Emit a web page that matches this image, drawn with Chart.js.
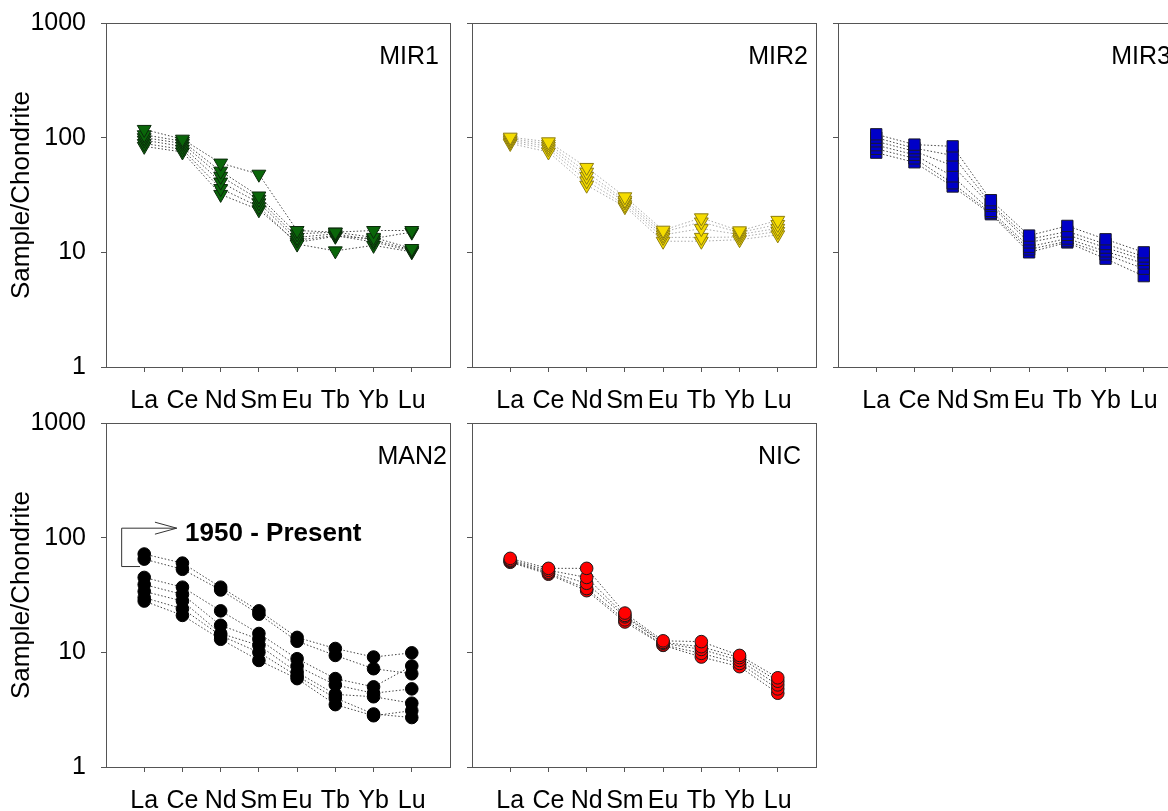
<!DOCTYPE html>
<html>
<head>
<meta charset="utf-8">
<title>REE chondrite-normalised patterns</title>
<script src="https://cdn.jsdelivr.net/npm/chart.js@4/dist/chart.umd.min.js"></script>
<style>
  html, body { margin: 0; padding: 0; background: #fff; overflow: hidden; }
  #wrap { position: relative; width: 1168px; height: 811px; overflow: hidden; background: #fff; }
  #wrap canvas { position: absolute; }
</style>
</head>
<body>
<div id="wrap">
  <canvas id="pMIR1" width="460" height="420" style="left:0px;top:0px"></canvas>
  <canvas id="pMIR2" width="460" height="420" style="left:366px;top:0px"></canvas>
  <canvas id="pMIR3" width="460" height="420" style="left:732px;top:0px"></canvas>
  <canvas id="pMAN2" width="460" height="420" style="left:0px;top:400px"></canvas>
  <canvas id="pNIC"  width="460" height="420" style="left:366px;top:400px"></canvas>
</div>
<script>
// Rare-earth elements along the x axis
const elements = ['La', 'Ce', 'Nd', 'Sm', 'Eu', 'Tb', 'Yb', 'Lu'];
// Decade ticks on the log axis
const yTickValues = [1, 10, 100, 1000];
const yAxisTitle = 'Sample/Chondrite';

// Sample/chondrite ratios, one row per sample, in element order
const mir1 = [
  [118, 97, 60, 48, 15.5, 15, 15.5, 15.5],
  [106, 93, 51, 31, 14.5, 15, 13.5, 10.8],
  [100, 89, 46, 29, 13.5, 14.5, 12.8, 10.5],
  [95, 84, 41, 27, 12.8, 14, 12.3, 10.3],
  [89, 79, 36, 25, 11.8, 10.3, 11.5, 10.1],
  [84, 75, 32, 23.5, 12.2, 13.8, 13.2, 15]
];
const mir2 = [
  [101, 92, 55, 30.5, 15.6, 20, 15.4, 19],
  [98, 88, 50, 28.5, 15, 18.4, 14.9, 17.5],
  [95, 84, 46, 27.5, 14.2, 16.1, 14.3, 16.2],
  [92, 80, 42, 26, 13.5, 13.5, 13.6, 15.2],
  [89, 75, 38.5, 25, 12.5, 12.5, 12.9, 14.2]
];
const mir3 = [
  [107, 87, 84, 28.5, 14, 17, 13, 10],
  [100, 81, 70, 26.5, 13, 15.2, 11.8, 9.2],
  [93, 76, 57, 25.5, 12.2, 14.2, 11, 8.6],
  [86, 71, 46, 23, 11.2, 13.2, 10.2, 8],
  [80, 66, 40, 22, 10.6, 12.5, 9.6, 7.2],
  [74, 61, 37.5, 21.5, 10, 12.2, 8.8, 6.2]
];
const man2 = [
  [72, 60, 37, 23, 13.5, 10.8, 9.1, 9.9],
  [65, 53, 35, 21.5, 12.5, 9.4, 7.2, 6.5],
  [45, 37, 23, 14.6, 8.8, 5.9, 5.0, 7.6],
  [39, 32, 17.2, 13, 7.6, 5.2, 4.4, 4.8],
  [34, 28, 14.6, 11.5, 6.7, 4.3, 4.1, 3.6],
  [28, 21, 13, 8.5, 5.9, 3.5, 2.8, 3.1],
  [30, 24, 14, 10, 6.2, 4.0, 2.9, 2.7]
];
const nic = [
  [66, 54, 54, 22, 12.6, 12.4, 9.4, 6.0],
  [64, 52, 45, 21, 12.2, 11.2, 9.0, 5.6],
  [63, 50, 40, 20.4, 12, 10.6, 8.5, 5.2],
  [62, 49, 36, 19.2, 11.6, 9.8, 8.0, 4.8],
  [61, 48, 34.5, 18.4, 11.5, 9.1, 7.5, 4.4]
];

const FONT = '"Liberation Sans", Arial, Helvetica, sans-serif';
Chart.defaults.font.family = FONT;
Chart.defaults.color = '#000';

// Frame around the plot area plus the sample-site name in its corner
const panelFrame = {
  id: 'panelFrame',
  afterDatasetsDraw(chart, args, opts) {
    const { ctx, chartArea: a } = chart;
    ctx.save();
    ctx.strokeStyle = '#555';
    ctx.lineWidth = 1;
    ctx.strokeRect(Math.round(a.left) + 0.5, Math.round(a.top) + 0.5,
                   Math.round(a.right - a.left), Math.round(a.bottom - a.top));
    ctx.font = '25px ' + FONT;
    ctx.fillStyle = '#000';
    ctx.textAlign = 'right';
    ctx.textBaseline = 'alphabetic';
    ctx.fillText(opts.name, a.right - opts.inset, a.top + 41);
    ctx.restore();
  }
};

// Bracket with an open arrow pointing at a text note
const bracketNote = {
  id: 'bracketNote',
  afterDatasetsDraw(chart, args, opts) {
    if (!opts || !opts.text) return;
    const { ctx } = chart;
    const xs = chart.scales.x, ys = chart.scales.y;
    const xL = xs.getPixelForValue(opts.xLeft);
    const xFoot = xs.getPixelForValue(opts.xFoot);
    const xTip = xs.getPixelForValue(opts.xTip);
    const xArm = xs.getPixelForValue(opts.xArm);
    const yLow = ys.getPixelForValue(opts.low);
    const yHigh = ys.getPixelForValue(opts.high);
    ctx.save();
    ctx.strokeStyle = '#333';
    ctx.lineWidth = 1;
    ctx.beginPath();
    ctx.moveTo(xFoot, yLow);
    ctx.lineTo(xL, yLow);
    ctx.lineTo(xL, yHigh);
    ctx.lineTo(xTip, yHigh);
    ctx.moveTo(xArm, yHigh - 6);
    ctx.lineTo(xTip, yHigh);
    ctx.lineTo(xArm, yHigh + 6);
    ctx.stroke();
    ctx.font = 'bold 26px ' + FONT;
    ctx.fillStyle = '#000';
    ctx.textAlign = 'left';
    ctx.textBaseline = 'alphabetic';
    ctx.fillText(opts.text, xs.getPixelForValue(opts.xText), ys.getPixelForValue(opts.textAt));
    ctx.restore();
  }
};

function toPoints(vals) {
  return vals.map((v, i) => ({ x: i + 1, y: v }));
}

// Dotted connecting lines go underneath, the symbols on top
function buildDatasets(series, style) {
  const lines = series.map(vals => ({
    data: toPoints(vals),
    showLine: true,
    borderColor: style.line,
    borderWidth: 1,
    borderDash: [1.5, 2],
    pointRadius: 0,
    fill: false,
    order: 2
  }));
  const marks = series.map(vals => ({
    data: toPoints(vals),
    showLine: false,
    pointStyle: style.shape,
    rotation: style.rotation || 0,
    pointRadius: style.radius,
    pointBackgroundColor: style.fill,
    pointBorderColor: style.edge,
    pointBorderWidth: 1,
    order: 1
  }));
  return lines.concat(marks);
}

function makePanel(id, name, inset, series, style, showY, note) {
  new Chart(document.getElementById(id), {
    type: 'scatter',
    data: { datasets: buildDatasets(series, style) },
    options: {
      responsive: false,
      animation: false,
      events: [],
      devicePixelRatio: 1,
      layout: { padding: { top: 23, right: 10, left: 0, bottom: 0 } },
      plugins: {
        legend: { display: false },
        tooltip: { enabled: false },
        panelFrame: { name: name, inset: inset },
        bracketNote: note || {}
      },
      scales: {
        x: {
          type: 'linear',
          min: 0,
          max: elements.length + 1,
          border: { display: false },
          grid: { drawOnChartArea: false, drawTicks: true, tickLength: 5, color: '#555', lineWidth: 1 },
          afterBuildTicks: s => { s.ticks = elements.map((_, i) => ({ value: i + 1 })); },
          afterFit: s => { s.height = 53; s.paddingLeft = 0; s.paddingRight = 0; },
          ticks: {
            autoSkip: false,
            maxRotation: 0,
            minRotation: 0,
            padding: 14,
            color: '#000',
            font: { size: 25, family: FONT },
            callback: v => elements[v - 1] || ''
          }
        },
        y: {
          type: 'logarithmic',
          min: yTickValues[0],
          max: yTickValues[yTickValues.length - 1],
          border: { display: false },
          grid: { drawOnChartArea: false, drawTicks: true, tickLength: 5, color: '#555', lineWidth: 1 },
          afterBuildTicks: s => { s.ticks = yTickValues.map(v => ({ value: v })); },
          afterFit: s => { s.width = 106; s.paddingTop = 0; s.paddingBottom = 0; },
          ticks: {
            display: showY,
            padding: 15,
            color: '#000',
            font: { size: 25, family: FONT },
            callback: v => String(v)
          },
          title: {
            display: showY,
            text: yAxisTitle,
            color: '#000',
            font: { size: 26, family: FONT },
            padding: { top: 6, bottom: 0 }
          }
        }
      }
    },
    plugins: [panelFrame, bracketNote]
  });
}

makePanel('pMIR1', 'MIR1', 11, mir1,
  { shape: 'triangle', rotation: 180, radius: 8, fill: '#0a660a', edge: '#0b2a0b', line: '#444' }, true);
makePanel('pMIR2', 'MIR2', 8, mir2,
  { shape: 'triangle', rotation: 180, radius: 8, fill: '#f5dc00', edge: '#8c7c10', line: '#aaa' }, false);
makePanel('pMIR3', 'MIR3', 11, mir3,
  { shape: 'rect', radius: 8, fill: '#0000c8', edge: '#1a1a2a', line: '#444' }, false);
makePanel('pMAN2', 'MAN2', 3, man2,
  { shape: 'circle', radius: 6.3, fill: '#000', edge: '#000', line: '#444' }, true,
  { text: '1950 - Present', xLeft: 0.41, xFoot: 0.89, xTip: 1.85, xArm: 1.28,
    low: 56, high: 121, xText: 2.07, textAt: 93 });
makePanel('pNIC', 'NIC', 15, nic,
  { shape: 'circle', radius: 6.3, fill: '#ff0000', edge: '#1a1a1a', line: '#444' }, false);
</script>
</body>
</html>
